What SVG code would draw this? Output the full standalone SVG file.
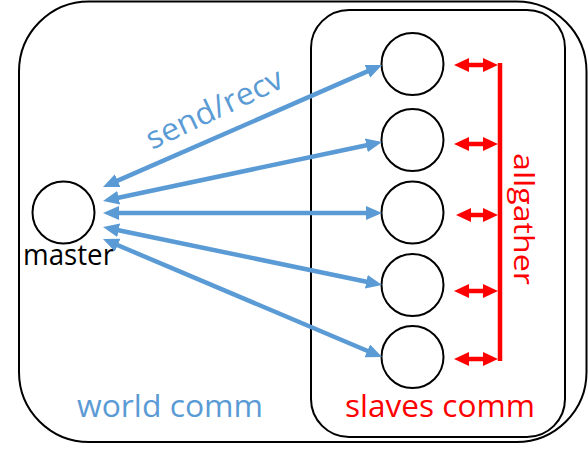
<svg xmlns="http://www.w3.org/2000/svg" width="588" height="451" viewBox="0 0 588 451">
  <style>
    .box { fill: none; stroke: #000; stroke-width: 2; }
    .node { fill: #fff; stroke: #000; stroke-width: 2; }
    .blue { stroke: #5B9BD5; stroke-width: 4.5; fill: none; marker-start: url(#bh); marker-end: url(#bh); }
    .red { stroke: #FF0000; stroke-width: 4.5; fill: none; }
    .redarrow { stroke: #FF0000; stroke-width: 4.5; fill: none; marker-start: url(#rh); marker-end: url(#rh); }
    .t { font-family: "Open Sans", "Liberation Sans", sans-serif; }
  </style>
  <defs>
    <marker id="bh" viewBox="0 0 16 14" refX="10" refY="7" markerWidth="16" markerHeight="14" markerUnits="userSpaceOnUse" orient="auto-start-reverse">
      <path d="M0,0 L16,7 L0,14 z" fill="#5B9BD5"/>
    </marker>
    <marker id="rh" viewBox="0 0 15 14" refX="9" refY="7" markerWidth="15" markerHeight="14" markerUnits="userSpaceOnUse" orient="auto-start-reverse">
      <path d="M0,0 L15,7 L0,14 z" fill="#FF0000"/>
    </marker>
  </defs>

  <g id="world-comm">
    <rect class="box" x="19" y="1.5" width="567.5" height="440.5" rx="70" ry="70"/>
    <text class="t" x="77" y="417" font-size="31" fill="#5B9BD5" textLength="186" lengthAdjust="spacingAndGlyphs">world comm</text>
  </g>
  <g id="slaves-comm">
    <rect class="box" x="311" y="10" width="254" height="427" rx="38" ry="38"/>
    <text class="t" x="345" y="417" font-size="31" fill="#FF0000" textLength="190" lengthAdjust="spacingAndGlyphs">slaves comm</text>
  </g>

  <g id="master">
    <circle class="node" cx="63.5" cy="212.5" r="31"/>
    <text class="t" x="23" y="265" font-size="29" fill="#000" textLength="91" lengthAdjust="spacingAndGlyphs">master</text>
  </g>
  <g id="slave1"><circle class="node" cx="412.5" cy="64" r="31"/></g>
  <g id="slave2"><circle class="node" cx="412.5" cy="140" r="31"/></g>
  <g id="slave3"><circle class="node" cx="412.5" cy="212.5" r="31"/></g>
  <g id="slave4"><circle class="node" cx="412.5" cy="285" r="31"/></g>
  <g id="slave5"><circle class="node" cx="412.5" cy="357" r="31"/></g>

  <g id="connectors">
    <line class="blue" x1="108.5" y1="184.6" x2="376.5" y2="67.4"/>
    <line class="blue" x1="108.9" y1="199.8" x2="376.1" y2="143.2"/>
    <line class="blue" x1="109" y1="213" x2="376" y2="213"/>
    <line class="blue" x1="108.9" y1="228.2" x2="376.1" y2="283.8"/>
    <line class="blue" x1="108.5" y1="241.3" x2="376.5" y2="354.7"/>

    <line class="red" x1="500" y1="63" x2="500" y2="361"/>
    <line class="redarrow" x1="460" y1="65" x2="492" y2="65"/>
    <line class="redarrow" x1="460" y1="144" x2="492" y2="144"/>
    <line class="redarrow" x1="462" y1="215" x2="492" y2="215"/>
    <line class="redarrow" x1="460" y1="291" x2="492" y2="291"/>
    <line class="redarrow" x1="460" y1="359" x2="492" y2="359"/>
  </g>

  <g id="labels">
    <text class="t" transform="translate(152,150) rotate(-25.5)" font-size="31" fill="#5B9BD5" textLength="148" lengthAdjust="spacingAndGlyphs">send/recv</text>
    <text class="t" transform="translate(514,153) rotate(90)" font-size="27" fill="#FF0000" textLength="132" lengthAdjust="spacingAndGlyphs">allgather</text>
  </g>
</svg>
